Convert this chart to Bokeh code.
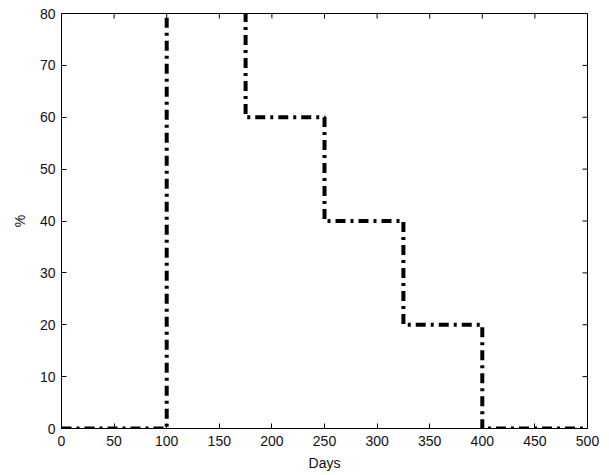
import math
from bokeh.plotting import figure
from bokeh.models import FixedTicker, Range1d
from bokeh.embed import file_html
from bokeh.resources import INLINE

# Data
days = [0, 100, 175, 250, 325, 400, 500]
percent = [0, 100, 60, 40, 20, 0, 0]
x_ticks = [0, 50, 100, 150, 200, 250, 300, 350, 400, 450, 500]
y_ticks = [0, 10, 20, 30, 40, 50, 60, 70, 80]
x_min, x_max = 0, 500
y_min, y_max = 0, 80

FONT = "Liberation Sans"
FS = "14px"

p = figure(width=600, height=473, output_backend="svg", toolbar_location=None,
           x_range=Range1d(x_min, x_max), y_range=Range1d(y_min, y_max),
           min_border_left=61, min_border_right=13, min_border_top=13, min_border_bottom=45,
           x_axis_label="Days", y_axis_label="%")
p.background_fill_color = "white"
p.border_fill_color = "white"
p.grid.visible = False
p.outline_line_color = "black"
p.outline_line_width = 1

p.step(days, percent, mode="after", line_color="black", line_width=4,
       line_dash="10 5 3 5")

# box ticks on top and right (MATLAB style)
p.ray(x=x_ticks, y=[y_max] * len(x_ticks), length=5, length_units="screen",
      angle=-math.pi / 2, line_color="black", line_width=1)
p.ray(x=[x_max] * len(y_ticks), y=y_ticks, length=5, length_units="screen",
      angle=math.pi, line_color="black", line_width=1)

for ax, ticks in ((p.xaxis[0], x_ticks), (p.yaxis[0], y_ticks)):
    ax.ticker = FixedTicker(ticks=ticks)
    ax.major_tick_in = 5
    ax.major_tick_out = 0
    ax.minor_tick_line_color = None
    ax.axis_line_color = "black"
    ax.major_tick_line_color = "black"
    ax.major_label_text_font = FONT
    ax.major_label_text_font_size = FS
    ax.major_label_text_color = "#111111"
    ax.axis_label_text_font = FONT
    ax.axis_label_text_font_size = FS
    ax.axis_label_text_font_style = "normal"
    ax.axis_label_text_color = "#111111"

p.xaxis[0].major_label_standoff = 7
p.xaxis[0].axis_label_standoff = 6
p.yaxis[0].major_label_standoff = 6
p.yaxis[0].axis_label_standoff = 9

open("out.html", "w").write(file_html(p, INLINE))
